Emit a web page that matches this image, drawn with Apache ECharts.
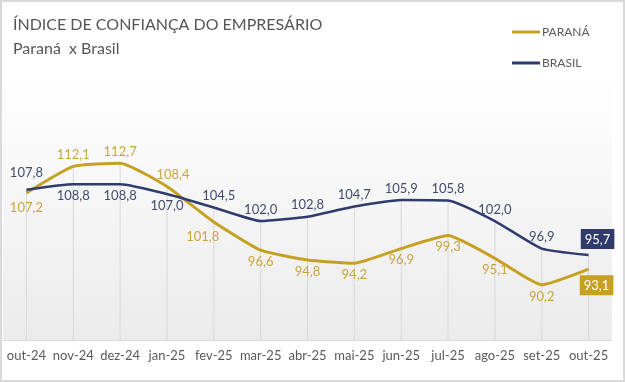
<!DOCTYPE html>
<html>
<head>
<meta charset="utf-8">
<script src="https://cdn.jsdelivr.net/npm/echarts@6/dist/echarts.min.js"></script>
<style>
html,body{margin:0;padding:0;background:#fff;}
#c{width:625px;height:382px;box-sizing:border-box;border:2px solid #d9d9d9;}
</style>
</head>
<body>
<div id="c"></div>
<script>
const categories = ['out-24','nov-24','dez-24','jan-25','fev-25','mar-25','abr-25','mai-25','jun-25','jul-25','ago-25','set-25','out-25'];
const parana = [107.2,112.1,112.7,108.4,101.8,96.6,94.8,94.2,96.9,99.3,95.1,90.2,93.1];
const brasil = [107.8,108.8,108.8,107.0,104.5,102.0,102.8,104.7,105.9,105.8,102.0,96.9,95.7];

const GOLD = '#C8A021';
const GOLD_TXT = '#C9A53C';
const NAVY = '#2F3B6D';
const NAVY_TXT = '#414B6E';
const FONT = 'Lato';
const fmt = p => p.value.toFixed(1).replace('.', ',');

const last = categories.length - 1;
const paranaData = parana.map((v, i) => {
  const d = {value: v};
  if (i === 0) d.label = {position: 'bottom', distance: 8};
  if (i === 1 || i === 2) d.label = {position: 'top'};
  if (i === 3) d.label = {position: 'top', offset: [6, 0]};
  if (i === 4) d.label = {position: 'bottom', offset: [-11, 3]};
  if (i === last) d.label = {position: 'bottom', offset: [8, 1], backgroundColor: GOLD, color: '#fff', padding: [4, 4, 3, 4]};
  return d;
});
const brasilData = brasil.map((v, i) => {
  const d = {value: v};
  if (i === 0) d.label = {position: 'top', distance: 10};
  if (i >= 1 && i <= 3) d.label = {position: 'bottom', distance: 5};
  if (i === 4) d.label = {position: 'top', offset: [5, 0]};
  if (i === last) d.label = {position: 'top', offset: [9, -1], backgroundColor: NAVY, color: '#fff', padding: [4, 4, 3, 4]};
  return d;
});
const dropData = parana.map((v, i) => Math.max(v, brasil[i]));

const chart = echarts.init(document.getElementById('c'), null, {renderer: 'canvas'});
chart.setOption({
  animation: false,
  textStyle: {fontFamily: FONT},
  title: [
    {text: 'ÍNDICE DE CONFIANÇA DO EMPRESÁRIO', left: 6, top: 10,
     textStyle: {fontFamily: FONT, fontSize: 16, fontWeight: 'normal', color: '#555555'}},
    {text: 'Paraná  x Brasil', left: 6, top: 34,
     textStyle: {fontFamily: FONT, fontSize: 16, fontWeight: 'normal', color: '#555555'}}
  ],
  legend: {
    orient: 'vertical', left: 505, top: 19, itemGap: 19,
    itemWidth: 28, itemHeight: 3, icon: 'rect',
    data: ['PARANÁ', 'BRASIL'],
    textStyle: {fontFamily: FONT, fontSize: 12, color: '#595959', padding: [0, 0, 0, -3]}
  },
  grid: {left: 1, right: 11, top: 73, bottom: 40, show: true, borderWidth: 0,
    backgroundColor: new echarts.graphic.LinearGradient(0, 0, 0, 1, [
      {offset: 0, color: '#ffffff'}, {offset: 1, color: '#ebebeb'}])},
  xAxis: {
    type: 'category', data: categories, boundaryGap: true,
    axisLine: {lineStyle: {color: '#d9d9d9', width: 1}},
    axisTick: {show: false},
    axisLabel: {color: '#595959', fontSize: 13, margin: 9, fontFamily: FONT, interval: 0}
  },
  yAxis: {type: 'value', min: 80, max: 129, show: false, splitLine: {show: false}},
  series: [
    {name: 'drop', type: 'bar', data: dropData, barWidth: 1, silent: true,
     itemStyle: {color: '#d9d9d9'}, z: 1},
    {name: 'PARANÁ', type: 'line', data: paranaData, smooth: 0.15, symbol: 'circle', symbolSize: 0,
     lineStyle: {color: GOLD, width: 3}, itemStyle: {color: GOLD}, z: 3,
     label: {show: true, position: 'bottom', distance: 5, formatter: fmt, color: GOLD_TXT, fontSize: 13, fontFamily: FONT}},
    {name: 'BRASIL', type: 'line', data: brasilData, smooth: 0.15, symbol: 'circle', symbolSize: 0,
     lineStyle: {color: NAVY, width: 2.5}, itemStyle: {color: NAVY}, z: 4,
     label: {show: true, position: 'top', distance: 5, formatter: fmt, color: NAVY_TXT, fontSize: 13, fontFamily: FONT}}
  ]
});
</script>
</body>
</html>
